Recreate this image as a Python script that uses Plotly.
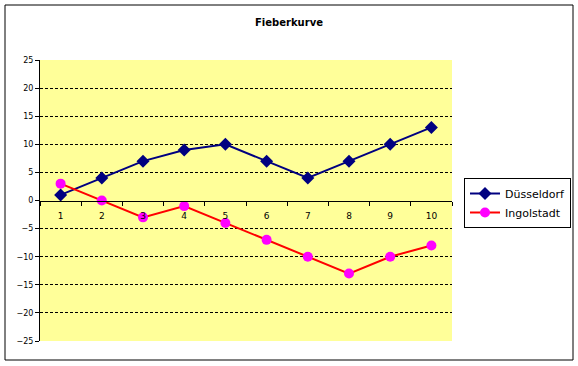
import plotly.graph_objects as go

days = ["1", "2", "3", "4", "5", "6", "7", "8", "9", "10"]
duesseldorf = [1, 4, 7, 9, 10, 7, 4, 7, 10, 13]
ingolstadt = [3, 0, -3, -1, -4, -7, -10, -13, -10, -8]
y_ticks = [25, 20, 15, 10, 5, 0, -5, -10, -15, -20, -25]
grid_vals = [20, 15, 10, 5, -5, -10, -15, -20]

W, H = 578, 366
L, R, T, B = 40, 126, 60, 25
pw, ph = W - L - R, H - T - B

def px_x(p):
    return (p - L) / pw

def px_y(p):
    return (H - B - p) / ph

fig = go.Figure()
fig.add_trace(go.Scatter(
    x=days, y=duesseldorf, name="Düsseldorf", mode="lines+markers",
    line=dict(color="#000080", width=2),
    marker=dict(symbol="diamond", size=10, color="#000080")))
fig.add_trace(go.Scatter(
    x=days, y=ingolstadt, name="Ingolstadt", mode="lines+markers",
    line=dict(color="#FF0000", width=2),
    marker=dict(symbol="circle", size=10, color="#FF00FF")))

font = "DejaVu Sans"
fig.update_layout(
    width=W, height=H,
    margin=dict(l=L, r=R, t=T, b=B, autoexpand=False),
    paper_bgcolor="white", plot_bgcolor="#FFFF99",
    title=dict(text="<b>Fieberkurve</b>", x=px_x(289), xref="paper",
               xanchor="center", y=1 - 22 / H, yanchor="middle",
               font=dict(family=font, size=10, color="black")),
    font=dict(family=font, size=9, color="black"),
    xaxis=dict(type="category", categoryorder="array", categoryarray=days,
               range=[-0.5, 9.5], anchor="free", position=0.5,
               showline=True, linecolor="black", linewidth=1,
               ticks="outside", tickson="boundaries", ticklen=4,
               tickcolor="black", showgrid=False, zeroline=False,
               ticklabelstandoff=7,
               tickfont=dict(family=font, size=9)),
    yaxis=dict(range=[-25, 25], tickvals=y_ticks, showgrid=False,
               zeroline=False, showline=True, linecolor="black",
               ticks="outside", ticklen=4, tickcolor="black",
               tickfont=dict(family=font, size=8)),
    yaxis2=dict(range=[-25, 25], overlaying="y", tickvals=grid_vals,
                showticklabels=False, showgrid=True, gridcolor="black",
                griddash="3px,2px", gridwidth=1, zeroline=False,
                showline=False, ticks=""),
    legend=dict(x=px_x(464), y=px_y(178), xanchor="left", yanchor="top",
                bordercolor="black", borderwidth=1, bgcolor="white",
                font=dict(family=font, size=11), itemwidth=30),
    shapes=[dict(type="rect", xref="paper", yref="paper",
                 x0=px_x(5), x1=px_x(573), y0=px_y(360), y1=px_y(5),
                 line=dict(color="black", width=1), layer="below")],
)
fig.add_trace(go.Scatter(x=[days[0]], y=[0], yaxis="y2", showlegend=False,
                         mode="markers", marker=dict(opacity=0),
                         hoverinfo="skip"))
fig.write_html("out.html", config={"displayModeBar": False},
               post_script="document.body.style.margin='0px';"
                           "document.body.style.overflow='hidden';")
